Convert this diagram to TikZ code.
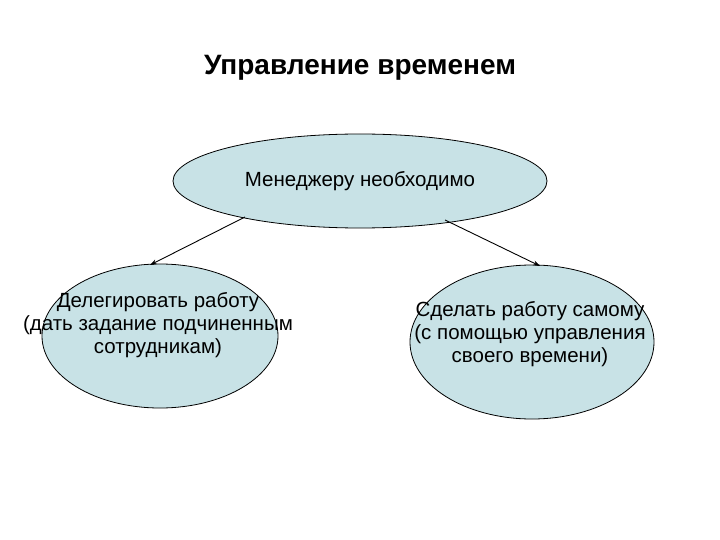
\documentclass[tikz,border=0pt]{standalone}
\usepackage{fontspec}
\setmainfont{Liberation Sans}
\usetikzlibrary{shapes.geometric,arrows.meta}
\definecolor{ellfill}{RGB}{200,226,230}
\tikzset{ell/.style={ellipse,draw=black,line width=0.8pt,fill=ellfill,inner sep=0pt},
lbl/.style={align=center,font=\fontsize{20.5}{23}\selectfont,inner sep=0pt},
conn/.style={line width=0.9pt,-{Stealth[length=7pt,width=5pt]}}}
\begin{document}
\begin{tikzpicture}[x=1pt,y=-1pt]
\useasboundingbox (0,0) rectangle (720,540);
\node (title) at (360,68) {\fontsize{28}{32}\selectfont\bfseries Управление временем};
\node[ell,minimum width=374pt,minimum height=94pt] (top) at (360,181) {};
\node[ell,minimum width=236pt,minimum height=144pt] (left) at (160,336) {};
\node[ell,minimum width=244pt,minimum height=154pt] (right) at (532,342) {};
\node[lbl] (toptext) at (360,181) {Менеджеру необходимо};
\node[lbl] (lefttext) at (158,325) {Делегировать работу\\(дать задание подчиненным\\сотрудникам)};
\node[lbl] (righttext) at (530,334) {Сделать работу самому\\(с помощью управления\\своего времени)};
\coordinate (s1) at (245,217);
\coordinate (s2) at (445,220);
\coordinate (e1) at (150,265);
\coordinate (e2) at (540,266);
\draw[conn] (s1) -- (e1);
\draw[conn] (s2) -- (e2);
\end{tikzpicture}
\end{document}
